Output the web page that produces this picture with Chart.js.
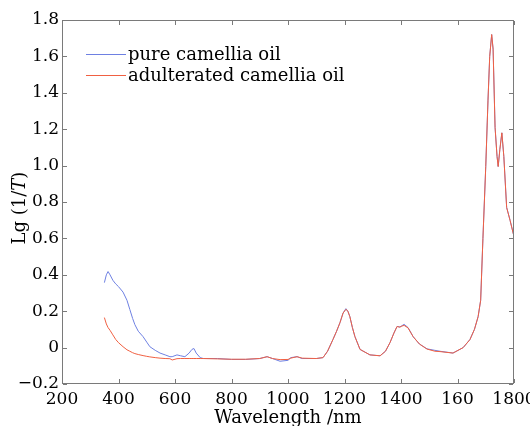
<!DOCTYPE html>
<html>
<head>
<meta charset="utf-8">
<script src="https://cdn.jsdelivr.net/npm/chart.js@4"></script>
<style>
  html, body { margin: 0; padding: 0; background: #fff; }
  #wrap { width: 530px; height: 426px; }
</style>
</head>
<body>
<div id="wrap"><canvas id="spectra"></canvas></div>
<script>
// NIR spectra
const wavelengths = [
  350, 357, 363, 370, 380, 390, 400, 416, 430, 440,
  450, 458, 470, 487, 500, 511, 530, 547, 565, 582,
  590, 607, 620, 635, 650, 660, 667, 675, 689, 700,
  750, 800, 850, 900, 926, 945, 972, 1000, 1010, 1032,
  1050, 1100, 1124, 1140, 1159, 1172, 1184, 1195, 1205, 1212,
  1219, 1228, 1237, 1255, 1290, 1326, 1345, 1361, 1375, 1386,
  1396, 1403, 1411, 1425, 1443, 1465, 1492, 1520, 1538, 1584,
  1620, 1644, 1660, 1673, 1682, 1690, 1700, 1708, 1714, 1721,
  1726, 1733, 1740, 1744, 1750, 1757, 1764, 1774, 1786, 1800
];
const pureOil = [
  0.357, 0.40, 0.418, 0.40, 0.37, 0.35, 0.335, 0.305, 0.26, 0.21,
  0.16, 0.126, 0.09, 0.06, 0.03, 0.005, -0.015, -0.03, -0.04, -0.05,
  -0.05, -0.04, -0.045, -0.05, -0.03, -0.01, -0.005, -0.03, -0.055, -0.06,
  -0.06, -0.065, -0.065, -0.06, -0.05, -0.06, -0.075, -0.07, -0.055, -0.05,
  -0.06, -0.06, -0.055, -0.02, 0.044, 0.09, 0.137, 0.19, 0.214, 0.2,
  0.17, 0.11, 0.06, -0.01, -0.04, -0.045, -0.02, 0.027, 0.08, 0.116,
  0.114, 0.12, 0.128, 0.11, 0.06, 0.02, -0.007, -0.015, -0.02, -0.03,
  0, 0.044, 0.1, 0.17, 0.26, 0.6, 0.995, 1.36, 1.6, 1.72,
  1.64, 1.21, 1.05, 0.995, 1.09, 1.18, 1.05, 0.77, 0.70, 0.61
];
const adulteratedOil = [
  0.165, 0.13, 0.11, 0.095, 0.07, 0.045, 0.027, 0.005, -0.012, -0.02,
  -0.028, -0.033, -0.038, -0.044, -0.048, -0.051, -0.055, -0.058, -0.06, -0.061,
  -0.068, -0.061, -0.06, -0.06, -0.06, -0.06, -0.06, -0.06, -0.06, -0.06,
  -0.062, -0.064, -0.064, -0.06, -0.05, -0.06, -0.066, -0.065, -0.058, -0.05,
  -0.058, -0.06, -0.055, -0.02, 0.044, 0.09, 0.137, 0.19, 0.21, 0.2,
  0.17, 0.11, 0.06, -0.01, -0.04, -0.045, -0.02, 0.027, 0.08, 0.116,
  0.112, 0.118, 0.122, 0.108, 0.06, 0.02, -0.008, -0.02, -0.022, -0.03,
  0, 0.044, 0.1, 0.17, 0.26, 0.6, 0.995, 1.36, 1.6, 1.72,
  1.64, 1.21, 1.05, 0.995, 1.09, 1.18, 1.05, 0.77, 0.70, 0.61
];
const seriesNames = ['pure camellia oil', 'adulterated camellia oil'];
const seriesColors = ['rgb(110, 128, 226)', 'rgb(240, 96, 66)'];
// tick text as printed in the figure (note the "160")
const xTickLabels = ['200', '400', '600', '800', '1000', '1200', '1400', '160', '1800'];
const yTickLabels = ['\u22120.2', '0', '0.2', '0.4', '0.6', '0.8', '1.0', '1.2', '1.4', '1.6', '1.8'];

const SERIF = '"DejaVu Serif", serif';
const frameColor = '#7a7a7a';

function toPoints(values) {
  return values.map((v, i) => ({ x: wavelengths[i], y: v }));
}

// box with inward ticks, legend and y title (mixed italic)
const framePlugin = {
  id: 'frame',
  afterDraw(chart) {
    const { ctx, chartArea: a, scales: { x, y } } = chart;
    const L = Math.round(a.left), R = Math.round(a.right) - 1;
    const T = Math.round(a.top), B = Math.round(a.bottom) - 1;
    ctx.save();
    ctx.fillStyle = frameColor;
    ctx.fillRect(L, T, R - L + 1, 1);
    ctx.fillRect(L, B, R - L + 1, 1);
    ctx.fillRect(L, T, 1, B - T + 1);
    ctx.fillRect(R, T, 1, B - T + 1);
    x.ticks.forEach(t => {
      const px = Math.round(x.getPixelForValue(t.value));
      ctx.fillRect(px, B - 4, 1, 4);
      ctx.fillRect(px, T + 1, 1, 4);
    });
    y.ticks.forEach(t => {
      const py = Math.round(y.getPixelForValue(t.value));
      ctx.fillRect(L + 1, py, 4, 1);
      ctx.fillRect(R - 4, py, 4, 1);
    });

    // legend
    ctx.font = '18px ' + SERIF;
    ctx.textBaseline = 'middle';
    seriesNames.forEach((name, i) => {
      const ly = 54 + i * 21;
      ctx.fillStyle = seriesColors[i];
      ctx.fillRect(86, ly, 40, 1);
      ctx.fillStyle = '#000';
      ctx.fillText(name, 128, ly + 1);
    });

    // y axis title: Lg (1/T)
    const parts = [['Lg (1/', 'normal'], ['T', 'italic'], [')', 'normal']];
    ctx.translate(20, 208);
    ctx.rotate(-Math.PI / 2);
    let total = 0;
    parts.forEach(p => { ctx.font = p[1] + ' 18px ' + SERIF; total += ctx.measureText(p[0]).width; });
    let cx = -total / 2;
    ctx.textAlign = 'left';
    parts.forEach(p => {
      ctx.font = p[1] + ' 18px ' + SERIF;
      ctx.fillText(p[0], cx, 0);
      cx += ctx.measureText(p[0]).width;
    });
    ctx.restore();
  }
};

new Chart(document.getElementById('spectra'), {
  type: 'line',
  data: {
    datasets: [
      {
        label: seriesNames[0],
        data: toPoints(pureOil),
        borderColor: seriesColors[0],
        borderWidth: 1,
        pointRadius: 0,
        order: 1
      },
      {
        label: seriesNames[1],
        data: toPoints(adulteratedOil),
        borderColor: seriesColors[1],
        borderWidth: 1,
        pointRadius: 0,
        order: 0
      }
    ]
  },
  plugins: [framePlugin],
  options: {
    responsive: true,
    maintainAspectRatio: false,
    animation: false,
    devicePixelRatio: 1,
    layout: { padding: { top: 20, right: 16, left: 0, bottom: 0 } },
    plugins: {
      legend: { display: false },
      tooltip: { enabled: false }
    },
    scales: {
      x: {
        type: 'linear',
        min: 200,
        max: 1800,
        grid: { display: false, drawTicks: false },
        border: { display: false },
        ticks: {
          stepSize: 200,
          autoSkip: false,
          maxRotation: 0,
          padding: 5,
          color: '#000',
          font: { family: SERIF, size: 17 },
          callback: (v, i) => xTickLabels[i]
        },
        title: {
          display: true,
          text: 'Wavelength /nm',
          color: '#000',
          font: { family: SERIF, size: 18 },
          padding: { top: 0, bottom: -3 }
        },
        afterFit: (scale) => {
          scale.height = 42;
          scale.paddingLeft = 0;
          scale.paddingRight = 0;
        }
      },
      y: {
        type: 'linear',
        min: -0.2,
        max: 1.8,
        grid: { display: false, drawTicks: false },
        border: { display: false },
        ticks: {
          stepSize: 0.2,
          padding: 3,
          color: '#000',
          font: { family: SERIF, size: 17 },
          callback: (v, i) => yTickLabels[i]
        },
        afterFit: (scale) => { scale.width = 62; }
      }
    }
  }
});
</script>
</body>
</html>
